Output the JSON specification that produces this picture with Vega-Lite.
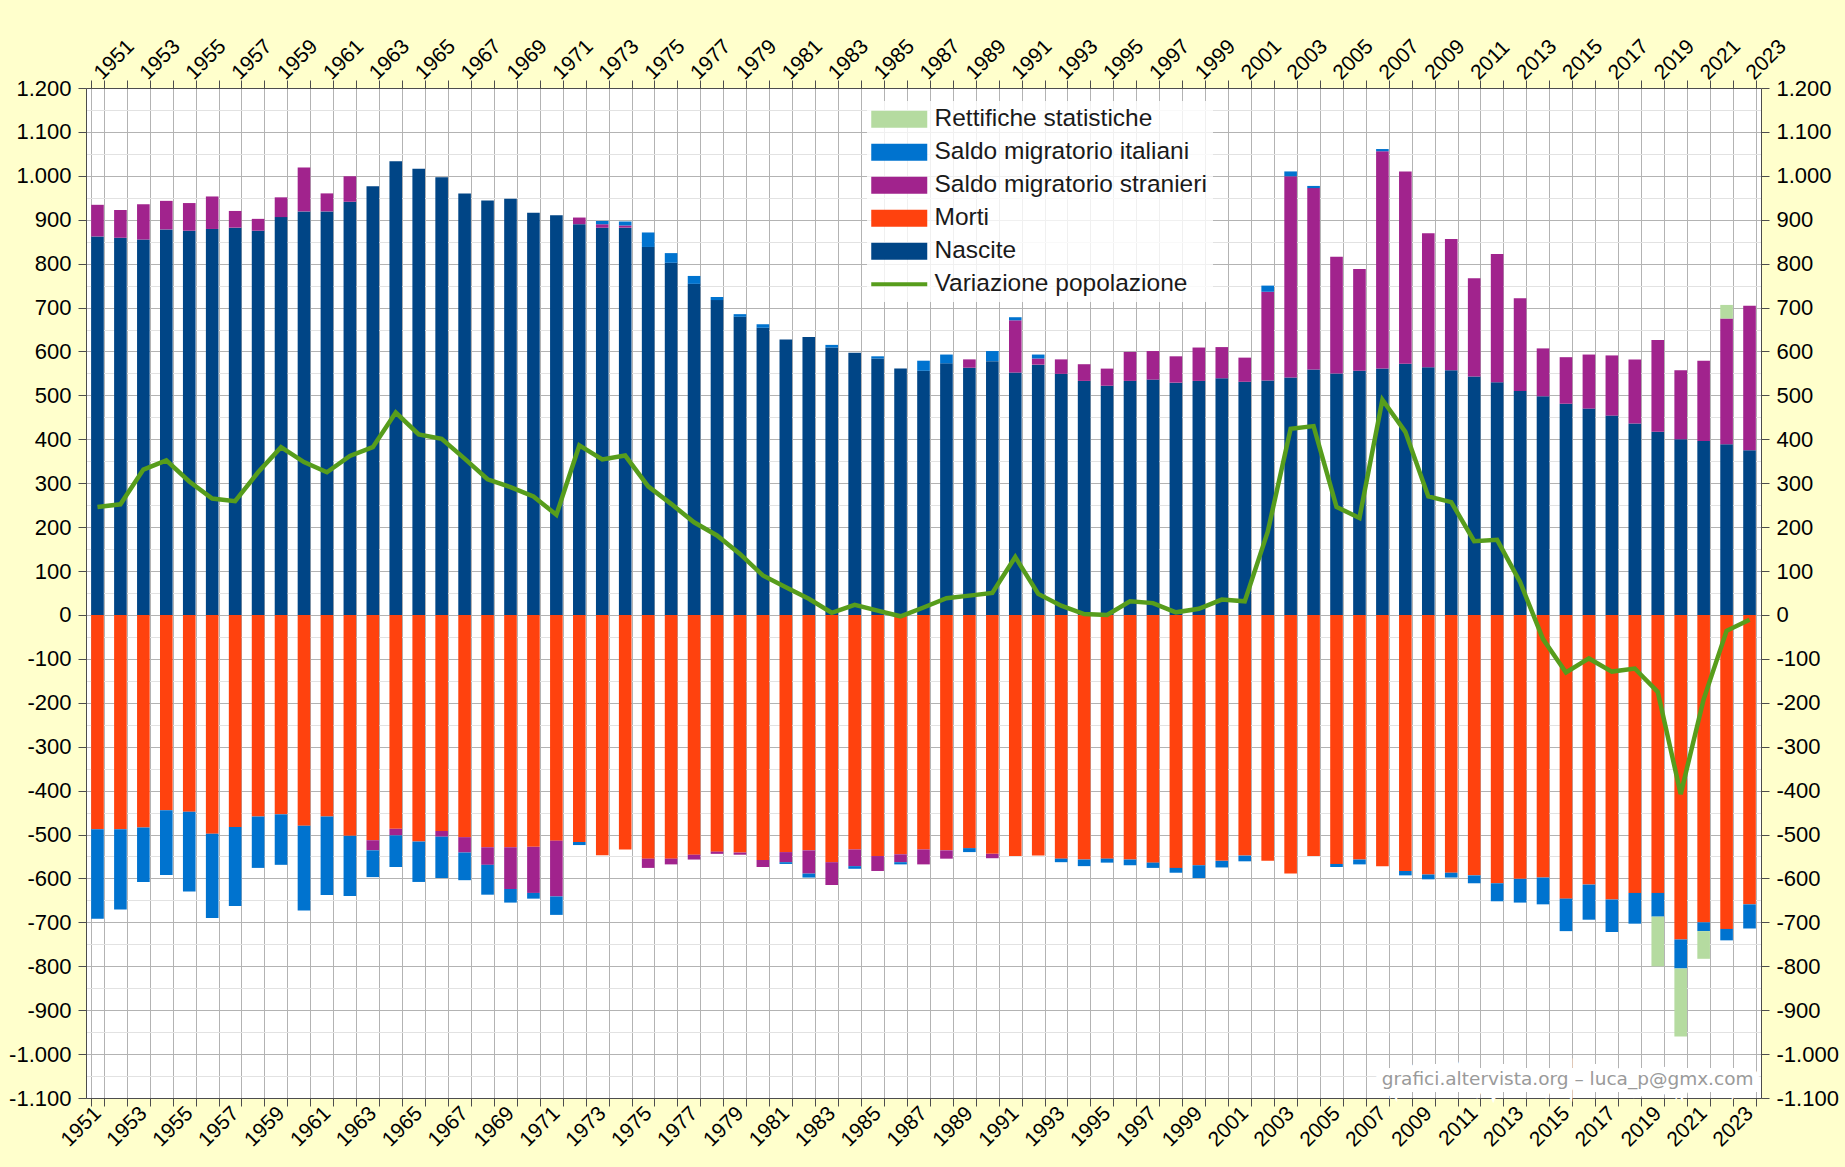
{
"$schema": "https://vega.github.io/schema/vega-lite/v6.json",
"width": 1675, "height": 1010,
"autosize": {"type": "none"},
"padding": {"left": 86, "top": 88, "right": 84, "bottom": 69},
"background": "#ffffcc",
"datasets": {
"serie": [
{"k":"N","serie":"Nascite","o":0},
{"k":"M","serie":"Morti","o":0},
{"k":"S","serie":"Saldo migratorio stranieri","o":1},
{"k":"I","serie":"Saldo migratorio italiani","o":2},
{"k":"R","serie":"Rettifiche statistiche","o":3}
],
"anni": [
{"anno":1951,"N":862,"M":-488,"S":72,"I":-204,"R":0,"V":246},
{"anno":1952,"N":859,"M":-488,"S":63,"I":-183,"R":0,"V":252},
{"anno":1953,"N":855,"M":-484,"S":80,"I":-124,"R":0,"V":331},
{"anno":1954,"N":878,"M":-445,"S":65,"I":-147,"R":0,"V":352},
{"anno":1955,"N":875,"M":-448,"S":63,"I":-182,"R":0,"V":304},
{"anno":1956,"N":879,"M":-498,"S":74,"I":-192,"R":0,"V":265},
{"anno":1957,"N":882,"M":-483,"S":38,"I":-180,"R":0,"V":259},
{"anno":1958,"N":875,"M":-459,"S":27,"I":-117,"R":0,"V":325},
{"anno":1959,"N":906,"M":-454,"S":45,"I":-115,"R":0,"V":382},
{"anno":1960,"N":919,"M":-480,"S":100,"I":-193,"R":0,"V":348},
{"anno":1961,"N":919,"M":-459,"S":41,"I":-179,"R":0,"V":325},
{"anno":1962,"N":941,"M":-503,"S":58,"I":-137,"R":0,"V":362},
{"anno":1963,"N":976,"M":-513,"S":-23,"I":-61,"R":0,"V":382},
{"anno":1964,"N":1033,"M":-487,"S":-15,"I":-72,"R":0,"V":461},
{"anno":1965,"N":1016,"M":-516,"S":0,"I":-92,"R":0,"V":411},
{"anno":1966,"N":997,"M":-492,"S":-13,"I":-94,"R":0,"V":401},
{"anno":1967,"N":960,"M":-506,"S":-35,"I":-63,"R":0,"V":356},
{"anno":1968,"N":944,"M":-529,"S":-40,"I":-68,"R":0,"V":309},
{"anno":1969,"N":948,"M":-529,"S":-95,"I":-31,"R":0,"V":291},
{"anno":1970,"N":916,"M":-528,"S":-105,"I":-13,"R":0,"V":270},
{"anno":1971,"N":910,"M":-514,"S":-127,"I":-42,"R":0,"V":228},
{"anno":1972,"N":890,"M":-517,"S":15,"I":-7,"R":0,"V":386},
{"anno":1973,"N":882,"M":-547,"S":8,"I":7,"R":0,"V":354},
{"anno":1974,"N":882,"M":-534,"S":5,"I":9,"R":0,"V":363},
{"anno":1975,"N":838,"M":-555,"S":-21,"I":33,"R":0,"V":293},
{"anno":1976,"N":802,"M":-555,"S":-13,"I":22,"R":0,"V":253},
{"anno":1977,"N":754,"M":-546,"S":-11,"I":18,"R":0,"V":211},
{"anno":1978,"N":717,"M":-539,"S":-5,"I":7,"R":0,"V":181},
{"anno":1979,"N":679,"M":-541,"S":-5,"I":6,"R":0,"V":139},
{"anno":1980,"N":654,"M":-558,"S":-16,"I":8,"R":0,"V":90},
{"anno":1981,"N":627,"M":-540,"S":-23,"I":-4,"R":0,"V":63},
{"anno":1982,"N":633,"M":-536,"S":-53,"I":-9,"R":0,"V":37},
{"anno":1983,"N":609,"M":-563,"S":-52,"I":6,"R":0,"V":5},
{"anno":1984,"N":597,"M":-534,"S":-38,"I":-6,"R":0,"V":23},
{"anno":1985,"N":584,"M":-549,"S":-34,"I":5,"R":0,"V":10},
{"anno":1986,"N":561,"M":-545,"S":-18,"I":-5,"R":0,"V":-3},
{"anno":1987,"N":556,"M":-534,"S":-34,"I":23,"R":0,"V":17},
{"anno":1988,"N":573,"M":-536,"S":-19,"I":20,"R":0,"V":38},
{"anno":1989,"N":563,"M":-531,"S":19,"I":-9,"R":0,"V":44},
{"anno":1990,"N":578,"M":-544,"S":-10,"I":23,"R":0,"V":50},
{"anno":1991,"N":552,"M":-549,"S":119,"I":7,"R":0,"V":132},
{"anno":1992,"N":570,"M":-548,"S":14,"I":9,"R":0,"V":48},
{"anno":1993,"N":549,"M":-555,"S":33,"I":-8,"R":0,"V":21},
{"anno":1994,"N":533,"M":-557,"S":38,"I":-15,"R":0,"V":2},
{"anno":1995,"N":522,"M":-555,"S":39,"I":-9,"R":0,"V":0},
{"anno":1996,"N":533,"M":-557,"S":66,"I":-13,"R":0,"V":31},
{"anno":1997,"N":536,"M":-564,"S":65,"I":-12,"R":0,"V":27},
{"anno":1998,"N":529,"M":-576,"S":60,"I":-11,"R":0,"V":6},
{"anno":1999,"N":533,"M":-570,"S":76,"I":-29,"R":0,"V":14},
{"anno":2000,"N":539,"M":-560,"S":71,"I":-15,"R":0,"V":35},
{"anno":2001,"N":531,"M":-548,"S":55,"I":-13,"R":0,"V":31},
{"anno":2002,"N":534,"M":-560,"S":202,"I":14,"R":0,"V":189},
{"anno":2003,"N":541,"M":-589,"S":458,"I":11,"R":0,"V":424},
{"anno":2004,"N":559,"M":-549,"S":413,"I":5,"R":0,"V":430},
{"anno":2005,"N":550,"M":-567,"S":266,"I":-7,"R":0,"V":246},
{"anno":2006,"N":556,"M":-557,"S":232,"I":-11,"R":0,"V":221},
{"anno":2007,"N":561,"M":-572,"S":495,"I":5,"R":0,"V":490},
{"anno":2008,"N":572,"M":-583,"S":438,"I":-10,"R":0,"V":417},
{"anno":2009,"N":564,"M":-591,"S":305,"I":-11,"R":0,"V":270},
{"anno":2010,"N":557,"M":-587,"S":299,"I":-11,"R":0,"V":257},
{"anno":2011,"N":543,"M":-593,"S":224,"I":-18,"R":0,"V":168},
{"anno":2012,"N":530,"M":-611,"S":292,"I":-41,"R":0,"V":171},
{"anno":2013,"N":510,"M":-601,"S":211,"I":-54,"R":0,"V":75},
{"anno":2014,"N":498,"M":-598,"S":109,"I":-61,"R":0,"V":-55},
{"anno":2015,"N":481,"M":-646,"S":106,"I":-74,"R":0,"V":-131},
{"anno":2016,"N":470,"M":-614,"S":123,"I":-80,"R":0,"V":-99},
{"anno":2017,"N":454,"M":-648,"S":137,"I":-74,"R":0,"V":-129},
{"anno":2018,"N":436,"M":-633,"S":146,"I":-70,"R":0,"V":-122},
{"anno":2019,"N":417,"M":-633,"S":209,"I":-54,"R":-113,"V":-175},
{"anno":2020,"N":400,"M":-739,"S":157,"I":-66,"R":-155,"V":-408},
{"anno":2021,"N":396,"M":-700,"S":183,"I":-20,"R":-63,"V":-192},
{"anno":2022,"N":389,"M":-715,"S":286,"I":-26,"R":31,"V":-36},
{"anno":2023,"N":375,"M":-659,"S":329,"I":-55,"R":0,"V":-11}
]
},
"config": {
"font": "Liberation Sans",
"view": {"fill": "white", "stroke": null},
"locale": {"number": {"decimal": ",", "thousands": ".", "grouping": [3], "currency": ["", " €"], "minus": "-"}},
"axis": {"labelFont": "Liberation Sans", "labelColor": "#000000", "domainColor": "#4d4d4d", "tickColor": "#4d4d4d"}
},
"resolve": {"axis": {"x": "independent", "y": "independent"}},
"layer": [
{
"mark": {"type": "rule", "color": "#4d4d4d", "strokeWidth": 1.5},
"encoding": {"y": {"datum": 0, "type": "quantitative", "axis": null}}
},
{
"data": {"name": "anni"},
"transform": [
{"fold": ["N", "M", "S", "I", "R"], "as": ["k", "v"]},
{"lookup": "k", "from": {"data": {"name": "serie"}, "key": "k", "fields": ["serie", "o"]}}
],
"mark": {"type": "bar"},
"encoding": {
"x": {"field": "anno", "type": "ordinal", "scale": {"paddingInner": 0.45, "paddingOuter": 0.225},
"axis": {"orient": "bottom", "title": null, "tickBand": "extent", "grid": true, "gridColor": "#b3b3b3", "gridWidth": 1,
"labelExpr": "datum.value % 2 === 1 ? datum.label : ''", "labelAngle": -45, "labelAlign": "right", "labelBaseline": "middle",
"labelFontSize": 21, "labelPadding": 4, "tickSize": 8, "labelOverlap": false, "labelBound": false}},
"y": {"field": "v", "type": "quantitative", "stack": "zero", "scale": {"domain": [-1100, 1200], "nice": false, "zero": false},
"axis": {"orient": "left", "title": null, "format": ",d",
"values": [-1100,-1050,-1000,-950,-900,-850,-800,-750,-700,-650,-600,-550,-500,-450,-400,-350,-300,-250,-200,-150,-100,-50,0,50,100,150,200,250,300,350,400,450,500,550,600,650,700,750,800,850,900,950,1000,1050,1100,1150,1200],
"labelExpr": "datum.value % 100 === 0 ? datum.label : ''",
"grid": true,
"gridColor": {"condition": {"test": "datum.value % 100 === 0", "value": "#b3b3b3"}, "value": "#e2e2e2"},
"tickColor": {"condition": {"test": "datum.value % 100 === 0", "value": "#4d4d4d"}, "value": "transparent"},
"tickSize": 8, "labelFontSize": 22, "labelPadding": 7, "labelOverlap": false}},
"color": {"field": "serie", "type": "nominal",
"scale": {"domain": ["Rettifiche statistiche", "Saldo migratorio italiani", "Saldo migratorio stranieri", "Morti", "Nascite", "Variazione popolazione"],
"range": ["#b5dba0", "#0073cf", "#a1238d", "#ff420e", "#004586", "#579d1c"]},
"legend": {"title": null, "orient": "none", "legendX": 781, "legendY": 13, "padding": 6,
"fillColor": "rgba(255,255,255,0.8)", "strokeColor": null,
"symbolType": "M-2,-0.6L2,-0.6L2,0.6L-2,0.6Z", "symbolSize": 784, "symbolOffset": 14, "labelOffset": 23,
"labelFontSize": 24.5, "labelFont": "Liberation Sans", "labelColor": "#1a1a1a", "rowPadding": 8, "labelLimit": 500,
"symbolStrokeWidth": 0, "symbolOpacity": 1,
"encode": {"symbols": {"update": {
"shape": {"signal": "datum.value === 'Variazione popolazione' ? 'M-2,0L2,0' : 'M-2,-0.6L2,-0.6L2,0.6L-2,0.6Z'"},
"fill": {"signal": "datum.value === 'Variazione popolazione' ? 'transparent' : scale('color', datum.value)"},
"stroke": {"signal": "datum.value === 'Variazione popolazione' ? '#579d1c' : 'transparent'"},
"strokeWidth": {"signal": "datum.value === 'Variazione popolazione' ? 4 : 0"}
}}}}},
"order": {"field": "o", "type": "quantitative", "sort": "ascending"}
}
},
{
"data": {"name": "anni"},
"mark": {"type": "line", "color": "#579d1c", "strokeWidth": 4.5},
"encoding": {
"x": {"field": "anno", "type": "ordinal",
"axis": {"orient": "top", "title": null, "tickBand": "extent", "grid": false,
"labelExpr": "datum.value % 2 === 1 ? datum.label : ''", "labelAngle": -45, "labelAlign": "left", "labelBaseline": "middle",
"labelFontSize": 21, "labelPadding": 4, "tickSize": 8, "labelOverlap": false, "labelBound": false}},
"y": {"field": "V", "type": "quantitative",
"axis": {"orient": "right", "title": null, "format": ",d", "grid": false,
"values": [-1100,-1000,-900,-800,-700,-600,-500,-400,-300,-200,-100,0,100,200,300,400,500,600,700,800,900,1000,1100,1200],
"tickSize": 8, "labelFontSize": 22, "labelPadding": 7, "labelOverlap": false}}
}
},
{
"data": {"values": [{"t": "grafici.altervista.org – luca_p@gmx.com"}]},
"mark": {"type": "text", "align": "right", "baseline": "middle", "dx": 4, "fontSize": 18.5, "font": "DejaVu Sans", "fill": "white", "stroke": "white", "strokeWidth": 14},
"encoding": {"text": {"field": "t"}, "x": {"datum": 2023, "type": "ordinal", "axis": null}, "y": {"datum": -1057, "type": "quantitative", "axis": null}}
},
{
"data": {"values": [{"t": "grafici.altervista.org – luca_p@gmx.com"}]},
"mark": {"type": "text", "align": "right", "baseline": "middle", "dx": 4, "fontSize": 18.5, "font": "DejaVu Sans", "color": "#9a9a9a"},
"encoding": {"text": {"field": "t"}, "x": {"datum": 2023, "type": "ordinal", "axis": null}, "y": {"datum": -1057, "type": "quantitative", "axis": null}}
}
]
}
